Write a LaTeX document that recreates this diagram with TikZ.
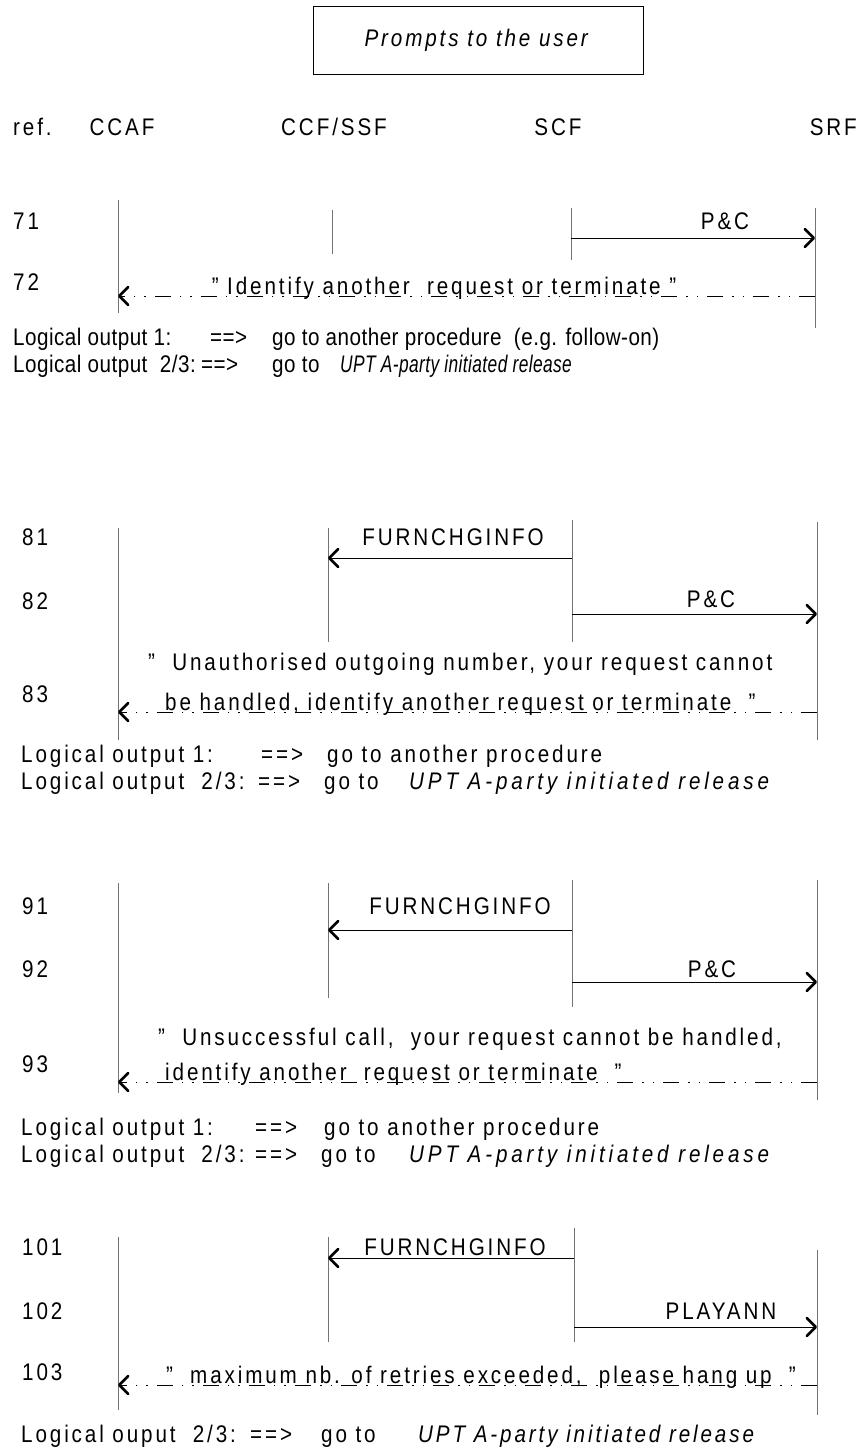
\documentclass[tikz,border=0pt]{standalone}
\usepackage{fontspec}
\setmainfont{Liberation Sans}[FakeStretch=0.86, LetterSpace=12]
\newfontfamily\plainfont{Liberation Sans}[FakeStretch=0.86, LetterSpace=2]
\usetikzlibrary{arrows.meta}

\newcommand\uptwide{\textit{\addfontfeature{LetterSpace=16}UPT A-party initiated release}}

\tikzset{
  lbl/.style={inner sep=0pt, font=\fontsize{24bp}{28bp}\selectfont},
  plain/.style={lbl, font=\fontsize{24bp}{28bp}\plainfont},
  life/.style={draw=black!55, line width=1bp},
  msg/.style={draw=black, line width=1bp, -{Straight Barb[length=9bp,width=18bp,line width=2.6bp,round]}},
  reply/.style={msg, dash pattern=on 16bp off 9bp on 1.5bp off 9bp on 1.5bp off 9bp},
}

\begin{document}
\begin{tikzpicture}[x=1bp, y=-1bp]
  \useasboundingbox (0,0) rectangle (858,1454);

  % Title
  \node[lbl, draw, line width=0.8bp, minimum width=330bp, minimum height=68bp] (title) at (478,40) {\textit{Prompts to the user}};

  % Headers
  \node[lbl, anchor=mid west] (href) at (13,133) {ref.};
  \node[lbl, anchor=mid] (hccaf) at (122,133) {CCAF};
  \node[lbl, anchor=mid] (hccf)  at (334,133) {CCF/SSF};
  \node[lbl, anchor=mid] (hscf)  at (558,133) {SCF};
  \node[lbl, anchor=mid east] (hsrf) at (857,133) {SRF};

  % 71 - 72
  \node[lbl, anchor=mid west] (r71) at (13,227) {71};
  \node[lbl, anchor=mid west] (r72) at (13,288) {72};
  \draw[life] (118,200) -- (118,313);
  \draw[life] (332,210) -- (332,254);
  \draw[life] (571,208) -- (571,260);
  \draw[life] (815,208) -- (815,328);

  \coordinate (scf71) at (571,238);
  \coordinate (srf71) at (815,238);
  \draw[msg] (scf71) -- (srf71);
  \node[lbl, anchor=mid] (m71) at (725,227) {P\&C};

  \coordinate (srf72) at (815,296);
  \coordinate (ccaf72) at (118,296);
  \draw[reply] (srf72) -- (ccaf72);
  \node[lbl, anchor=base] (m72) at (444,294) {"\ Identify another\ \ request or terminate\ "};

  \node[plain, anchor=mid west] (out71) at (13,343) {\makebox[197bp][l]{Logical output 1:}\makebox[62bp][l]{==>}go to another procedure\ \ (e.g. follow-on)};
  \node[plain, anchor=mid west] (out72) at (13,370) {\makebox[188bp][l]{Logical output\ \ 2/3:}\makebox[71bp][l]{==>}\makebox[68bp][l]{go to}\scalebox{0.84}[1]{\textit{UPT A-party initiated release}}};

  % 81 - 83
  \node[lbl, anchor=mid west] (r81) at (22,543) {81};
  \node[lbl, anchor=mid west] (r82) at (22,607) {82};
  \node[lbl, anchor=mid west] (r83) at (22,700) {83};
  \draw[life] (118,528) -- (118,740);
  \draw[life] (328,528) -- (328,642);
  \draw[life] (572,520) -- (572,642);
  \draw[life] (817,522) -- (817,740);

  \coordinate (scf81) at (572,558);
  \coordinate (ccf81) at (328,558);
  \draw[msg] (scf81) -- (ccf81);
  \node[lbl, anchor=mid] (m81) at (453,543) {FURNCHGINFO};

  \coordinate (scf82) at (572,614);
  \coordinate (srf82) at (817,614);
  \draw[msg] (scf82) -- (srf82);
  \node[lbl, anchor=mid] (m82) at (711,605) {P\&C};

  \coordinate (srf83) at (817,712);
  \coordinate (ccaf83) at (118,712);
  \draw[reply] (srf83) -- (ccaf83);
  \node[lbl, anchor=mid west] (m83a) at (148,668) {"\ \ Unauthorised outgoing number, your request cannot};
  \node[lbl, anchor=base west] (m83b) at (165,710) {be handled, identify another request or terminate\ \ "};

  \node[lbl, anchor=mid west] (out81) at (21,760) {\makebox[240bp][l]{Logical output 1:}\makebox[66bp][l]{==>}go to another procedure};
  \node[lbl, anchor=mid west] (out82) at (21,787) {\makebox[237bp][l]{Logical output\ \ 2/3:}\makebox[66bp][l]{==>}\makebox[85bp][l]{go to}\uptwide};

  % 91 - 93
  \node[lbl, anchor=mid west] (r91) at (22,912) {91};
  \node[lbl, anchor=mid west] (r92) at (22,975) {92};
  \node[lbl, anchor=mid west] (r93) at (22,1070) {93};
  \draw[life] (118,883) -- (118,1093);
  \draw[life] (328,883) -- (328,998);
  \draw[life] (572,880) -- (572,1007);
  \draw[life] (817,880) -- (817,1100);

  \coordinate (scf91) at (572,930);
  \coordinate (ccf91) at (328,930);
  \draw[msg] (scf91) -- (ccf91);
  \node[lbl, anchor=mid] (m91) at (460,912) {FURNCHGINFO};

  \coordinate (scf92) at (572,982);
  \coordinate (srf92) at (817,982);
  \draw[msg] (scf92) -- (srf92);
  \node[lbl, anchor=mid] (m92) at (712,975) {P\&C};

  \coordinate (srf93) at (817,1082);
  \coordinate (ccaf93) at (118,1082);
  \draw[reply] (srf93) -- (ccaf93);
  \node[lbl, anchor=mid west] (m93a) at (158,1043) {"\ \ Unsuccessful call,\ \ your request cannot be handled,};
  \node[lbl, anchor=base west] (m93b) at (165,1080) {identify another\ \ request or terminate\ \ "};

  \node[lbl, anchor=mid west] (out91) at (21,1133) {\makebox[234bp][l]{Logical output 1:}\makebox[69bp][l]{==>}go to another procedure};
  \node[lbl, anchor=mid west] (out92) at (21,1160) {\makebox[234bp][l]{Logical output\ \ 2/3:}\makebox[66bp][l]{==>}\makebox[88bp][l]{go to}\uptwide};

  % 101 - 103
  \node[lbl, anchor=mid west] (r101) at (22,1253) {101};
  \node[lbl, anchor=mid west] (r102) at (22,1317) {102};
  \node[lbl, anchor=mid west] (r103) at (22,1378) {103};
  \draw[life] (118,1237) -- (118,1410);
  \draw[life] (328,1237) -- (328,1342);
  \draw[life] (574,1228) -- (574,1342);
  \draw[life] (817,1250) -- (817,1415);

  \coordinate (scf101) at (574,1258);
  \coordinate (ccf101) at (328,1258);
  \draw[msg] (scf101) -- (ccf101);
  \node[lbl, anchor=mid] (m101) at (455,1253) {FURNCHGINFO};

  \coordinate (scf102) at (574,1327);
  \coordinate (srf102) at (817,1327);
  \draw[msg] (scf102) -- (srf102);
  \node[lbl, anchor=mid] (m102) at (721,1317) {PLAYANN};

  \coordinate (srf103) at (817,1385);
  \coordinate (ccaf103) at (118,1385);
  \draw[reply] (srf103) -- (ccaf103);
  \node[lbl, anchor=base] (m103) at (481,1383) {"\ \ maximum nb. of retries exceeded,\ \ please hang up\ \ "};

  \node[lbl, anchor=mid west] (out103) at (21,1440) {\makebox[229bp][l]{Logical ouput\ \ 2/3:}\makebox[71bp][l]{==>}\makebox[97bp][l]{go to}\textit{UPT A-party initiated release}};

\end{tikzpicture}
\end{document}
